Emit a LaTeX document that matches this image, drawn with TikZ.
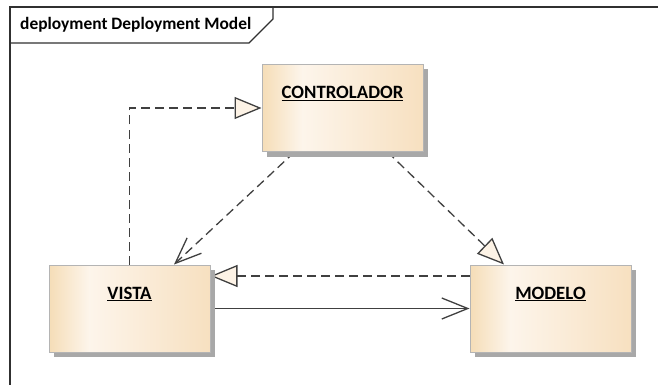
\documentclass[tikz,border=0pt]{standalone}
\usepackage{fontspec}
\setmainfont{Carlito}
\usetikzlibrary{arrows.meta,calc,shadows}
\definecolor{boxA}{HTML}{F5DDB7}
\definecolor{boxB}{HTML}{FDF5EB}
\definecolor{boxC}{HTML}{F7E0C0}
\definecolor{boxborder}{HTML}{B4B4B4}
\definecolor{shadowgray}{HTML}{A8A8A8}
\definecolor{linecol}{HTML}{404040}
\definecolor{framecol}{HTML}{303030}
\definecolor{trifill}{HTML}{FDF3E6}
\pgfdeclarehorizontalshading{eabox}{100bp}{color(0bp)=(boxA); color(25bp)=(boxA); color(37.5bp)=(boxB); color(75bp)=(boxC); color(100bp)=(boxC)}
\pgfdeclarelayer{bg}
\pgfsetlayers{bg,main}
\tikzset{
  eabox/.style={draw=boxborder, line width=1pt, shading=eabox,
    minimum width=161pt, minimum height=87pt, inner sep=0pt,
    drop shadow={shadow xshift=5pt, shadow yshift=-5pt, fill=shadowgray, opacity=1}},
  boxlabel/.style={anchor=center, yshift=-29.5pt, font=\fontsize{18.8}{22}\selectfont\bfseries, text=black},
  conn/.style={draw=linecol, line width=1.3pt},
  dashline/.style={dash pattern=on 9pt off 5pt},
  realize/.style={-{Triangle[length=27pt, width=22pt, fill=trifill, line width=1.3pt]}},
  openhead/.style={-{Straight Barb[length=26pt, width=21pt, line width=1.3pt]}},
}
\begin{document}
\begin{tikzpicture}[x=1pt,y=-1pt]
\useasboundingbox (0,0) rectangle (658,385);
% frame
\draw[framecol, line width=1.3pt] (10,385) -- (10,7) -- (658,7);
\draw[framecol, line width=1.3pt] (10,43) -- (249,43) -- (273,19) -- (273,7);
\node[anchor=west, font=\fontsize{17.4}{20}\selectfont\bfseries, inner sep=0pt] (title) at (20,25) {deployment Deployment Model};
% boxes
\node[eabox, label={[boxlabel]north:\underline{CONTROLADOR}}] (ctrl) at (342.5,108) {};
\node[eabox, label={[boxlabel]north:\underline{VISTA}}] (vista) at (129.5,308.5) {};
\node[eabox, label={[boxlabel]north:\underline{MODELO}}] (modelo) at (550.5,308.5) {};
\begin{pgfonlayer}{bg}
\draw[conn, dashline, realize] (vista.north) |- (ctrl.west);
\draw[conn, dashline, openhead] ($(ctrl.south)+(-48,0)$) -- ($(vista.north)+(44.5,0)$);
\draw[conn, dashline, realize] ($(ctrl.south)+(45,0)$) -- ($(modelo.north)+(-46.5,0)$);
\draw[conn, dashline, realize] ($(modelo.west)+(0,-32.5)$) -- ($(vista.east)+(0,-32.5)$);
\draw[conn, openhead] (vista.east) -- (modelo.west);
\end{pgfonlayer}
\end{tikzpicture}
\end{document}
